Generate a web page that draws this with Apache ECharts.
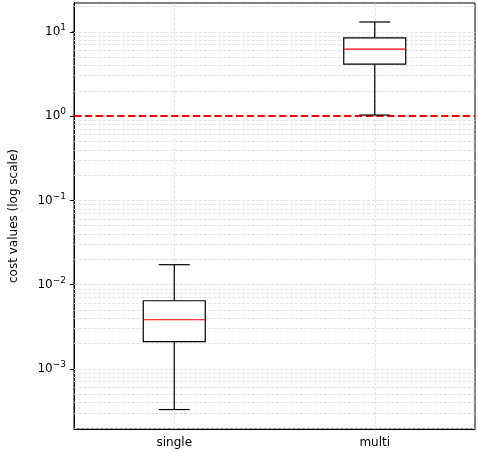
<!DOCTYPE html><html><head><meta charset="utf-8"><script src="https://cdn.jsdelivr.net/npm/echarts@6/dist/echarts.min.js"></script></head><body style="margin:0"><div id="c" style="width:478px;height:453px"></div><script>
const categories=['single','multi'];
// [min, Q1, median, Q3, max]
const boxSingle=[3.3e-4,0.00211,0.00384,0.00645,0.01727];
const boxMulti=[1.03,4.14,6.24,8.5,13.1];
const yTickExps=[-3,-2,-1,0,1];
const yMin=1.94e-4, yMax=22;
const L=Math.log10;
const minor=[];
for(let e=-4;e<=1;e++)for(let k=2;k<=9;k++){const v=k*Math.pow(10,e);if(v>yMin&&v<yMax)minor.push(L(v));}
const ch=echarts.init(document.getElementById('c'));
const boxData=[[0,...boxSingle.map(L)],[1,...boxMulti.map(L)]];
ch.setOption({animation:false,
grid:{left:66,right:3,top:3,bottom:24,show:true,borderColor:'#000',borderWidth:1,backgroundColor:'transparent'},
xAxis:{type:'category',data:categories,axisLine:{onZero:false,lineStyle:{color:'#000'}},axisTick:{alignWithLabel:true,lineStyle:{color:'#000'}},axisLabel:{color:'#000',fontSize:12,fontFamily:'DejaVu Sans'},splitLine:{show:false}},
yAxis:{type:'value',min:L(yMin),max:L(yMax),interval:1,name:'cost values (log scale)',nameLocation:'middle',nameGap:54,nameTextStyle:{color:'#000',fontSize:12,fontFamily:'DejaVu Sans'},
axisLine:{show:true,lineStyle:{color:'#000'}},axisTick:{show:true,length:4,lineStyle:{color:'#000'},customValues:yTickExps},splitLine:{show:false},
axisLabel:{customValues:yTickExps,color:'#000',fontSize:12,fontFamily:'DejaVu Sans',formatter:v=>'10{s|'+(v<0?'\u2212'+(-v):v)+'}',rich:{s:{fontSize:9,verticalAlign:'bottom',padding:[0,0,8,0],color:'#000',fontFamily:'DejaVu Sans'}}}},
series:[
{type:'line',data:[],markLine:{silent:true,symbol:'none',label:{show:false},lineStyle:{color:'#ddd',type:'dashed',width:0.8},data:[...minor.map(v=>({yAxis:v})),...yTickExps.map(e=>({yAxis:e})),{xAxis:'single'},{xAxis:'multi'}]}},
{type:'custom',z:5,data:minor,renderItem:(p,api)=>{const c=api.coord([0,api.value(0)]);const x=p.coordSys.x;return{type:'line',shape:{x1:x-2,y1:c[1],x2:x,y2:c[1]},style:{stroke:'#000',lineWidth:0.8}};}},
{type:'custom',z:6,data:boxData,renderItem:(p,api)=>{const cx=api.coord([api.value(0),0])[0];const y=i=>api.coord([api.value(0),api.value(i)])[1];const w=31,cw=15.5;const s={stroke:'#000',lineWidth:1.2,fill:null};
return{type:'group',children:[
{type:'line',shape:{x1:cx,y1:y(1),x2:cx,y2:y(2)},style:s},
{type:'line',shape:{x1:cx,y1:y(4),x2:cx,y2:y(5)},style:s},
{type:'line',shape:{x1:cx-cw,y1:y(1),x2:cx+cw,y2:y(1)},style:s},
{type:'line',shape:{x1:cx-cw,y1:y(5),x2:cx+cw,y2:y(5)},style:s},
{type:'rect',shape:{x:cx-w,y:y(4),width:2*w,height:y(2)-y(4)},style:{stroke:'#000',lineWidth:1.2,fill:'#fff'}},
{type:'line',shape:{x1:cx-w,y1:y(3),x2:cx+w,y2:y(3)},style:{stroke:'#f00',lineWidth:1.2}}]};}},
{type:'line',data:[],z:7,markLine:{silent:true,symbol:'none',label:{show:false},lineStyle:{color:'#f00',type:'dashed',width:1.8},data:[{yAxis:0}]}}
]});
</script></body></html>
